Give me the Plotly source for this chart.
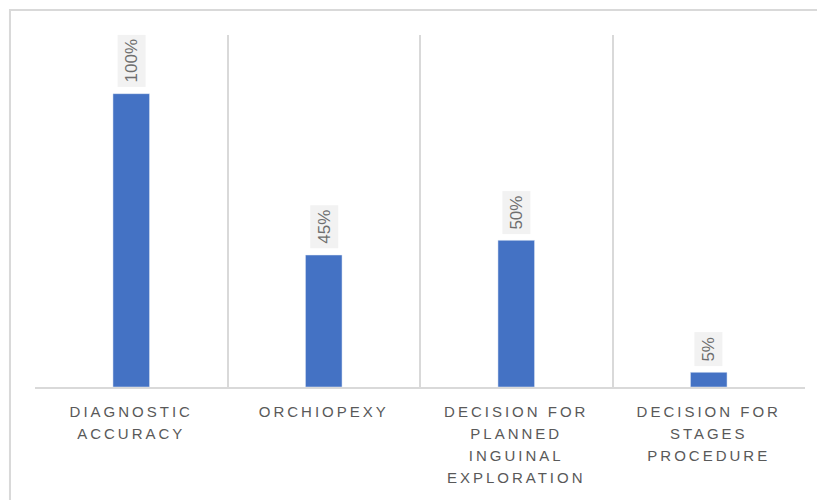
import plotly.graph_objects as go

categories = ["DIAGNOSTIC<br>ACCURACY", "ORCHIOPEXY", "DECISION FOR<br>PLANNED<br>INGUINAL<br>EXPLORATION", "DECISION FOR<br>STAGES<br>PROCEDURE"]
values = [1.00, 0.45, 0.50, 0.05]
labels = ["100%", "45%", "50%", "5%"]

fig = go.Figure()
fig.add_trace(go.Bar(x=categories, y=values, marker_color="#4472C4", width=0.19, hoverinfo="skip"))

for c, v, t in zip(categories, values, labels):
    fig.add_annotation(x=c, y=v, text=t, textangle=-90, showarrow=False,
                       yanchor="bottom", xanchor="center", yshift=6,
                       bgcolor="#F2F2F2", borderpad=4,
                       font=dict(family="Liberation Sans", size=17, color="#6E6E6E"))

# outer chart border
fig.add_shape(type="rect", xref="paper", yref="paper", x0=-0.0325, x1=1.2, y0=-0.6, y1=1.071,
              line=dict(color="#D9D9D9", width=2), fillcolor="rgba(0,0,0,0)", layer="below")

fig.update_layout(
    width=817, height=500,
    margin=dict(l=35, r=12, t=35, b=113),
    paper_bgcolor="white", plot_bgcolor="white",
    showlegend=False,
    bargap=0.8,
    xaxis=dict(tickson="boundaries", showgrid=True, gridcolor="#D9D9D9", gridwidth=1.5,
               showline=True, linecolor="#D9D9D9", linewidth=1.5, ticks="",
               ticklabelstandoff=10,
               tickfont=dict(family="Liberation Sans", size=15, color="#595959"),
               range=[-0.5, 3.5], fixedrange=True),
    yaxis=dict(range=[0, 1.2], showgrid=False, showticklabels=False, zeroline=False,
               showline=False, fixedrange=True),
)

post = """
var gd=document.getElementById('{plot_id}');
function ls(){
  gd.querySelectorAll('.xtick text').forEach(function(t){
    t.style.letterSpacing='3px';
    var lines=t.querySelectorAll('tspan.line');
    lines.forEach(function(s,i){ if(i>0){ s.setAttribute('dy',(i*1.47).toFixed(2)+'em'); } });
  });
}
ls(); if(gd.on){gd.on('plotly_afterplot', ls);}
"""
fig.write_html("out.html", post_script=post, config={"displayModeBar": False})
